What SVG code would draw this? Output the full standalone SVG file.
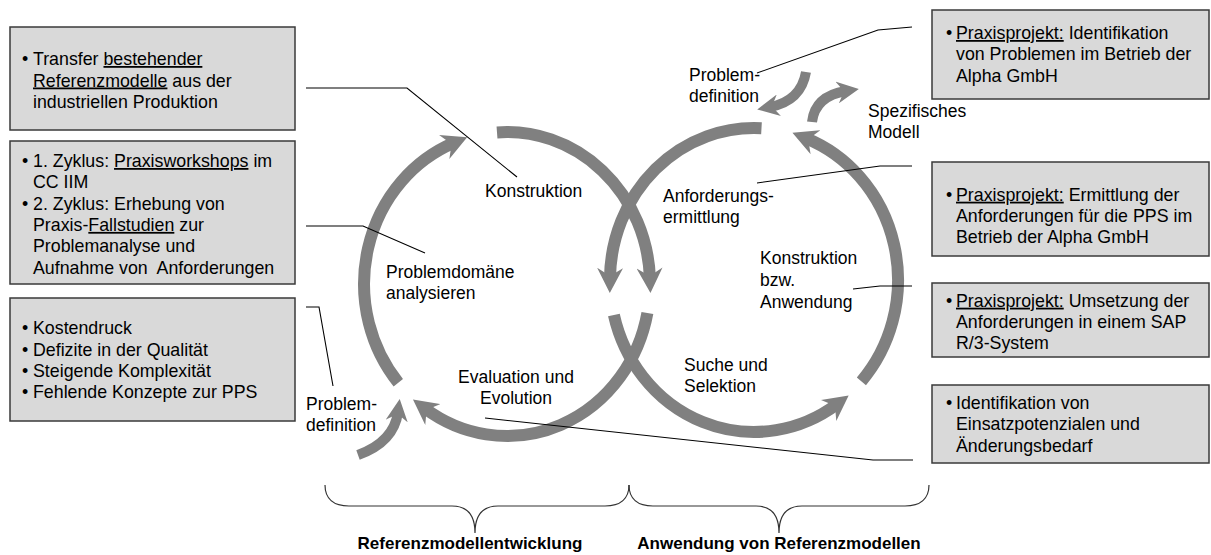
<svg xmlns="http://www.w3.org/2000/svg" width="1211" height="555" viewBox="0 0 1211 555">
  <style>
    .box { fill: #d9d9d9; stroke: #3a3a3a; stroke-width: 1.5; }
    .bt { font-family: "Liberation Sans", Arial, sans-serif; font-size: 17.8px; fill: #000; }
    .lbl { font-family: "Liberation Sans", Arial, sans-serif; font-size: 17.5px; fill: #000; }
    .hd { font-family: "Liberation Sans", Arial, sans-serif; font-size: 17px; font-weight: bold; fill: #000; text-anchor: middle; }
    .u { text-decoration: underline; }
    .cyc { fill: none; stroke: #808080; stroke-width: 12; marker-end: url(#ah); }
    .cyc0 { fill: none; stroke: #808080; stroke-width: 12; }
    .sm { fill: none; stroke: #808080; stroke-width: 10; marker-end: url(#ahs); }
    .ln { fill: none; stroke: #000; stroke-width: 1.1; }
    .br { fill: none; stroke: #333; stroke-width: 1.2; }
  </style>
  <defs>
    <marker id="ah" markerUnits="userSpaceOnUse" viewBox="0 0 26 26" markerWidth="26" markerHeight="26" refX="10" refY="13" orient="auto">
      <polygon points="0,0 25,13 0,26 8,13" fill="#808080"/>
    </marker>
    <marker id="ahs" markerUnits="userSpaceOnUse" viewBox="0 0 22 22" markerWidth="22" markerHeight="22" refX="9" refY="11" orient="auto">
      <polygon points="0,0 22,11 0,22 7,11" fill="#808080"/>
    </marker>
  </defs>

  <!-- Left column of boxes -->
  <g id="box-transfer">
    <rect class="box" x="10" y="27" width="285" height="103"/>
    <text class="bt" x="22" y="65">•</text>
    <text class="bt" x="33" y="65">Transfer <tspan class="u">bestehender</tspan></text>
    <text class="bt" x="33" y="86.5"><tspan class="u">Referenzmodelle</tspan> aus der</text>
    <text class="bt" x="33" y="108">industriellen Produktion</text>
  </g>
  <g id="box-zyklus">
    <rect class="box" x="10" y="141" width="285" height="143"/>
    <text class="bt" x="22" y="167">•</text>
    <text class="bt" x="33" y="167">1. Zyklus: <tspan class="u">Praxisworkshops</tspan> im</text>
    <text class="bt" x="33" y="188.3">CC IIM</text>
    <text class="bt" x="22" y="209.6">•</text>
    <text class="bt" x="33" y="209.6">2. Zyklus: Erhebung von</text>
    <text class="bt" x="33" y="230.9">Praxis-<tspan class="u">Fallstudien</tspan> zur</text>
    <text class="bt" x="33" y="252.2">Problemanalyse und</text>
    <text class="bt" x="33" y="273.5" xml:space="preserve">Aufnahme von  Anforderungen</text>
  </g>
  <g id="box-druck">
    <rect class="box" x="10" y="298" width="285" height="123"/>
    <text class="bt" x="22" y="334.3">•</text>
    <text class="bt" x="33" y="334.3">Kostendruck</text>
    <text class="bt" x="22" y="355.6">•</text>
    <text class="bt" x="33" y="355.6">Defizite in der Qualität</text>
    <text class="bt" x="22" y="376.9">•</text>
    <text class="bt" x="33" y="376.9">Steigende Komplexität</text>
    <text class="bt" x="22" y="398.2">•</text>
    <text class="bt" x="33" y="398.2">Fehlende Konzepte zur PPS</text>
  </g>

  <!-- Right column of boxes -->
  <g id="box-identifikation">
    <rect class="box" x="932" y="10" width="277" height="89"/>
    <text class="bt" x="946" y="39">•</text>
    <text class="bt" x="956" y="39"><tspan class="u">Praxisprojekt:</tspan> Identifikation</text>
    <text class="bt" x="956" y="60.3">von Problemen im Betrieb der</text>
    <text class="bt" x="956" y="81.6">Alpha GmbH</text>
  </g>
  <g id="box-ermittlung">
    <rect class="box" x="932" y="162" width="277" height="94"/>
    <text class="bt" x="946" y="200.7">•</text>
    <text class="bt" x="956" y="200.7"><tspan class="u">Praxisprojekt:</tspan> Ermittlung der</text>
    <text class="bt" x="956" y="222">Anforderungen für die PPS im</text>
    <text class="bt" x="956" y="243.3">Betrieb der Alpha GmbH</text>
  </g>
  <g id="box-umsetzung">
    <rect class="box" x="932" y="283" width="277" height="74"/>
    <text class="bt" x="946" y="306.7">•</text>
    <text class="bt" x="956" y="306.7"><tspan class="u">Praxisprojekt:</tspan> Umsetzung der</text>
    <text class="bt" x="956" y="328">Anforderungen in einem SAP</text>
    <text class="bt" x="956" y="349.3">R/3-System</text>
  </g>
  <g id="box-einsatz">
    <rect class="box" x="932" y="385" width="277" height="78"/>
    <text class="bt" x="946" y="409">•</text>
    <text class="bt" x="956" y="409">Identifikation von</text>
    <text class="bt" x="956" y="430.3">Einsatzpotenzialen und</text>
    <text class="bt" x="956" y="451.6">Änderungsbedarf</text>
  </g>

  <!-- Development cycle (left loop, clockwise) -->
  <g id="cycle-entwicklung">
    <path class="cyc" d="M497,132.4 A143,152 0 0 1 649.9,277.9"/>
    <path class="cyc" d="M647.4,313 A143,152 0 0 1 425,408.5"/>
    <path class="cyc" d="M398.3,382.7 A143,152 0 0 1 453.4,143.1"/>
    <path class="sm" d="M358,455 Q394,442 398,412"/>
    <text class="lbl" x="485" y="197">Konstruktion</text>
    <text class="lbl" x="386" y="278">Problemdomäne</text>
    <text class="lbl" x="386" y="299">analysieren</text>
    <text class="lbl" x="516" y="383" text-anchor="middle">Evaluation und</text>
    <text class="lbl" x="516" y="404" text-anchor="middle">Evolution</text>
    <text class="lbl" x="306" y="410">Problem-</text>
    <text class="lbl" x="306" y="431">definition</text>
  </g>

  <!-- Application cycle (right loop, counter-clockwise) -->
  <g id="cycle-anwendung">
    <path class="cyc" d="M761.5,128.2 A144,152 0 0 0 610,277.9"/>
    <path class="cyc" d="M613.9,315 A144,152 0 0 0 836.6,404.5"/>
    <path class="cyc" d="M861.4,381.3 A144,152 0 0 0 806.3,138.4"/>
    <path class="sm" d="M806,72 Q801,101 770,107"/>
    <path class="sm" d="M812,122 Q815,96 846,91"/>
    <text class="lbl" x="663" y="202">Anforderungs-</text>
    <text class="lbl" x="663" y="223">ermittlung</text>
    <text class="lbl" x="760" y="264">Konstruktion</text>
    <text class="lbl" x="760" y="286">bzw.</text>
    <text class="lbl" x="760" y="308">Anwendung</text>
    <text class="lbl" x="684" y="371">Suche und</text>
    <text class="lbl" x="684" y="392">Selektion</text>
    <text class="lbl" x="689" y="81">Problem-</text>
    <text class="lbl" x="689" y="102">definition</text>
    <text class="lbl" x="868" y="117">Spezifisches</text>
    <text class="lbl" x="868" y="138">Modell</text>
  </g>

  <!-- Leader lines from the boxes to the phases -->
  <g id="connectors">
    <polyline class="ln" points="306,88 407,88 517,177"/>
    <polyline class="ln" points="306,226 363,226 425,253"/>
    <polyline class="ln" points="306,307 319,307 333,386"/>
    <polyline class="ln" points="757,73 878,30 912,27"/>
    <polyline class="ln" points="757,183 880,166 912,166"/>
    <polyline class="ln" points="853,289 880,286 912,286"/>
    <polyline class="ln" points="485,418 873,460 913,460"/>
  </g>

  <!-- Braces and phase titles -->
  <g id="phases">
    <path class="br" d="M325,485 C325,499 334,506 349,506 L452,506 C467,506 475,514 475,533 C475,514 483,506 498,506 L605,506 C620,506 629,499 629,485"/>
    <path class="br" d="M629,485 C629,499 638,506 653,506 L756,506 C771,506 779,514 779,533 C779,514 787,506 802,506 L905,506 C920,506 929,499 929,485"/>
    <text class="hd" x="470" y="549">Referenzmodellentwicklung</text>
    <text class="hd" x="779" y="549">Anwendung von Referenzmodellen</text>
  </g>
</svg>
